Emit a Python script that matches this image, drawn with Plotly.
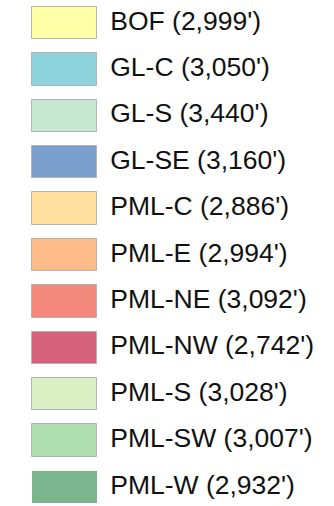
import plotly.graph_objects as go

# Legend entries: unit name, elevation in feet, fill colour
names = ["BOF", "GL-C", "GL-S", "GL-SE", "PML-C", "PML-E",
         "PML-NE", "PML-NW", "PML-S", "PML-SW", "PML-W"]
elevations_ft = [2999, 3050, 3440, 3160, 2886, 2994,
                 3092, 2742, 3028, 3007, 2932]
colors = ["#ffffa8", "#8ed3dc", "#c6e8d2", "#7b9fcd", "#fedf9e", "#fdbb8a",
          "#f4887a", "#d6617b", "#dbefc4", "#b0dfb1", "#7ab58e"]
border_widths = [1] * 10 + [0]

labels = [f"{n} ({v:,}')" for n, v in zip(names, elevations_ft)]
swatch_len = [1] * len(names)

fig = go.Figure()

# colour swatches as unit-length horizontal bars
fig.add_trace(go.Bar(
    y=names, x=swatch_len, base=0, orientation="h", width=0.70,
    marker=dict(color=colors, line=dict(color="#b3b3b3", width=border_widths)),
    hoverinfo="skip", showlegend=False,
))

# entry labels beside each swatch
fig.add_trace(go.Scatter(
    y=names, x=[1.21] * len(names), mode="text", text=labels,
    textposition="middle right",
    textfont=dict(family="Liberation Sans, Arial, sans-serif", size=26.5, color="#111111"),
    hoverinfo="skip", showlegend=False,
))

fig.update_layout(
    width=334, height=506,
    margin=dict(l=0, r=0, t=0, b=0),
    paper_bgcolor="white", plot_bgcolor="white",
    xaxis=dict(range=[-0.5016, 4.685], visible=False, fixedrange=True),
    yaxis=dict(range=[10.409, -0.4957], visible=False, fixedrange=True,
               type="category", categoryorder="array", categoryarray=names),
    bargap=0,
)

fig.write_html("out.html")
